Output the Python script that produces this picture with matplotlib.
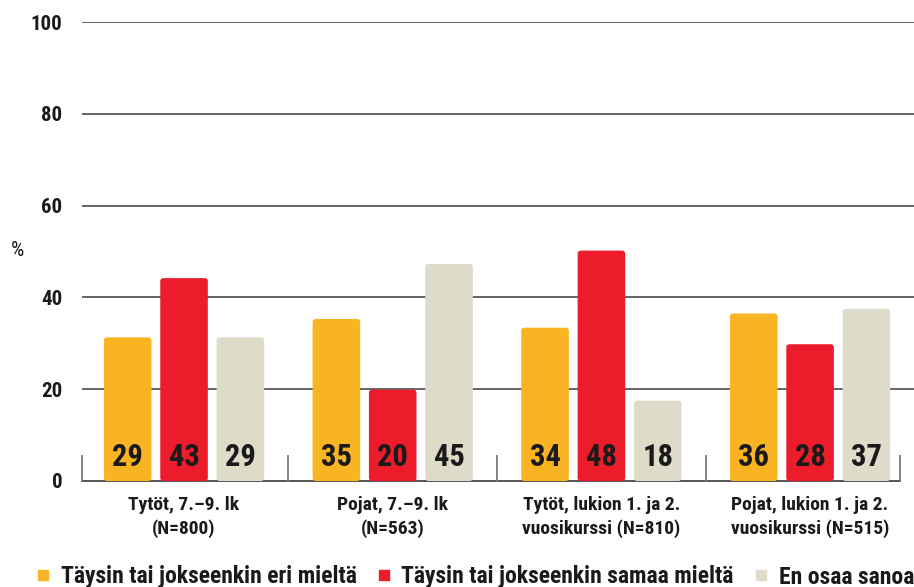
import matplotlib.pyplot as plt
import numpy as np
from matplotlib.patches import FancyBboxPatch
from matplotlib.lines import Line2D

plt.rcParams['font.family'] = ['Roboto Condensed', 'DejaVu Sans']
plt.rcParams['font.stretch'] = 'condensed'
plt.rcParams['font.weight'] = 'bold'

# data
groups = ["Tytöt, 7.–9. lk\n(N=800)", "Pojat, 7.–9. lk\n(N=563)",
          "Tytöt, lukion 1. ja 2.\nvuosikurssi (N=810)", "Pojat, lukion 1. ja 2.\nvuosikurssi (N=515)"]
series = ["Täysin tai jokseenkin eri mieltä", "Täysin tai jokseenkin samaa mieltä", "En osaa sanoa"]
# printed values
eri = [29, 35, 34, 36]
samaa = [43, 20, 48, 28]
en_osaa = [29, 45, 18, 37]
# bar heights as drawn in the picture
eri_drawn = [31.3, 35.3, 33.4, 36.5]
samaa_drawn = [44.2, 19.9, 50.2, 29.8]
en_osaa_drawn = [31.3, 47.3, 17.5, 37.5]

colors = ['#F8B422', '#EC1C2B', '#DEDBC9']
text_col = '#1a1a1a'

fig = plt.figure(figsize=(9.14, 5.87), dpi=100)
ax = fig.add_axes([82 / 914, 1 - 481 / 587, 1 - 82 / 914, (481 - 22) / 587])
ax.set_xlim(-0.489, 3.498)
ax.set_ylim(0, 100)

x = np.arange(len(groups))
width = 0.228
step = 0.27

# grid lines
for yv in [20, 40, 60, 80, 100]:
    ax.axhline(yv, color='#3a3a3a', lw=1.1, zorder=1)
ax.plot([-0.489, 3.43], [0, 0], color='#555555', lw=1.4, zorder=1, clip_on=False)
for sx in [-0.487, 0.5, 1.5, 2.5, 3.43]:
    ax.plot([sx, sx], [0, 5.4], color='#777777', lw=1.3, zorder=1, clip_on=False)

# bars with rounded corners
aspect = (1 / 4.59) / (1 / 208.7)
for i, (drawn, vals) in enumerate(zip([eri_drawn, samaa_drawn, en_osaa_drawn], [eri, samaa, en_osaa])):
    bars = ax.bar(x + (i - 1) * step, drawn, width, color=colors[i])
    for b, v in zip(bars, vals):
        b.set_visible(False)
        p = FancyBboxPatch((b.get_x(), b.get_y()), b.get_width(), b.get_height(),
                           boxstyle="round,pad=0,rounding_size=0.016",
                           mutation_aspect=aspect, fc=colors[i], ec='none', zorder=2)
        ax.add_patch(p)
        ax.text(b.get_x() + b.get_width() / 2, 5.3, str(v), ha='center', va='center',
                fontsize=22, color=text_col, zorder=3)

ax.set_xticks(x)
ax.set_xticklabels(groups, fontsize=14, color=text_col, linespacing=1.35)
ax.set_yticks([0, 20, 40, 60, 80, 100])
ax.set_yticklabels(['0', '20', '40', '60', '80', '100'], fontsize=15, color=text_col)
ax.tick_params(axis='both', length=0)
ax.tick_params(axis='y', pad=14)
ax.tick_params(axis='x', pad=11)
for s in ax.spines.values():
    s.set_visible(False)

fig.text(17 / 914, 1 - 250 / 587, '%', fontsize=15, color=text_col, ha='center', va='center',
         weight='normal')

handles = [Line2D([], [], marker='s', ls='none', markersize=6.5, color=c) for c in colors]
fig.legend(handles, series, loc='center right', bbox_to_anchor=(1.0, 1 - 577 / 587), ncol=3,
           frameon=False, fontsize=17, handletextpad=0.35, columnspacing=0.75,
           labelcolor=text_col, handlelength=0.8, borderaxespad=0, borderpad=0)

fig.savefig('out.png', dpi=100)
